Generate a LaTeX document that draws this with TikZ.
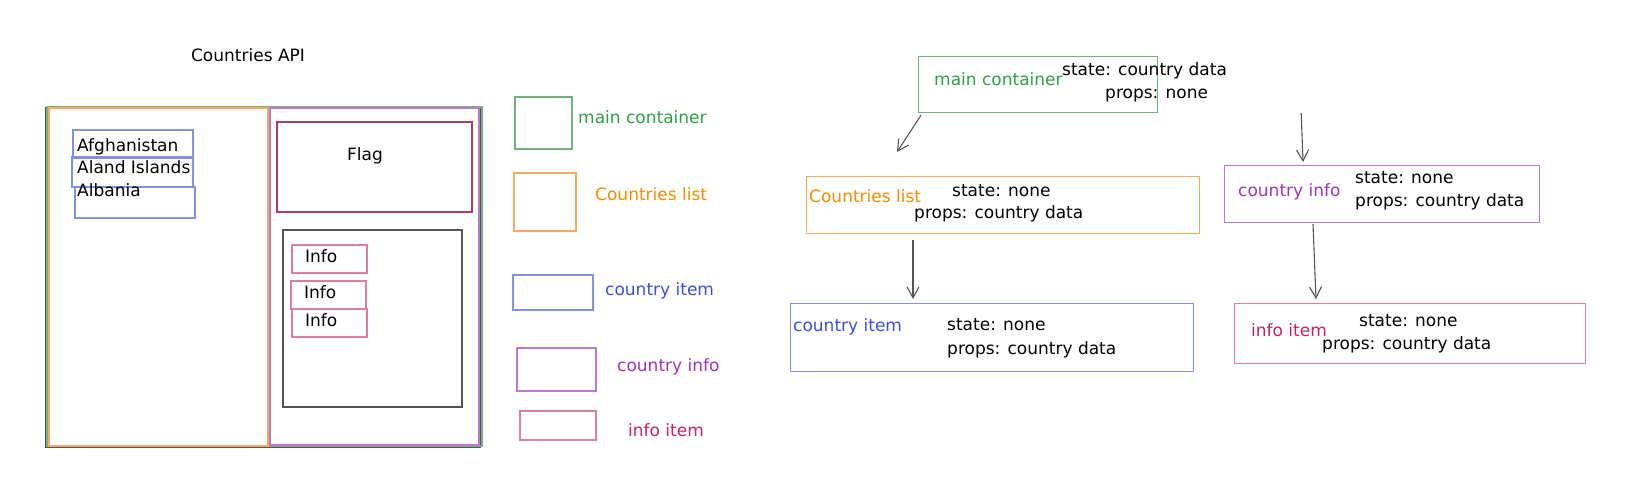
\documentclass[tikz,border=0pt]{standalone}
\usepackage{fontspec}
\setmainfont{DejaVu Sans}
\usetikzlibrary{arrows.meta}
\definecolor{txgreen}{HTML}{2F9E44}
\definecolor{bxgreen}{HTML}{72B27A}
\definecolor{txorange}{HTML}{F08C00}
\definecolor{bxorange}{HTML}{F7A862}
\definecolor{txblue}{HTML}{3B4FD8}
\definecolor{bxblue}{HTML}{8090E2}
\definecolor{txpurple}{HTML}{9C36B5}
\definecolor{bxpurple}{HTML}{B97ACD}
\definecolor{txcrimson}{HTML}{C2255C}
\definecolor{bxcrimson}{HTML}{D9809F}
\definecolor{bxflag}{HTML}{A8405E}
\definecolor{arrgray}{HTML}{555555}

\begin{document}
\begin{tikzpicture}[x=1pt,y=-1pt,
  box/.style={draw=#1, line width=1.2pt, inner sep=0pt, anchor=north west},
  txt/.style={anchor=west, inner sep=0pt, text height=12pt, text depth=4pt, font=\fontsize{17}{20}\selectfont},
  arr/.style={draw=arrgray, line width=1.1pt, -{Straight Barb[length=11pt,width=12pt]}}]
\useasboundingbox (0,0) rectangle (1631,478);

\node[txt, anchor=center] (title) at (248,58) {Countries API};
\draw[arrgray, line width=1.2pt] (46,108) rectangle (480,447);
\draw[bxgreen, line width=1.2pt] (47,107) rectangle (482,446);
\draw[bxorange, line width=1.2pt] (49,108) rectangle (268,446);
\draw[bxpurple, line width=1.2pt] (270,108) rectangle (479,445);
\draw[bxblue, line width=1.2pt] (73,130) rectangle (193,158);
\draw[bxblue, line width=1.2pt] (72,157) rectangle (193,187);
\draw[bxblue, line width=1.2pt] (75,187) rectangle (195,218);
\node[txt] (afg) at (77,148) {Afghanistan};
\node[txt] (ala) at (77,170) {Aland Islands};
\node[txt] (alb) at (77,193) {Albania};
\draw[bxflag, line width=1.2pt] (277,122) rectangle (472,212);
\node[txt, anchor=center] (flag) at (365,157) {Flag};
\draw[arrgray, line width=1.2pt] (283,230) rectangle (462,407);
\foreach \x/\y/\n in {292/245/1, 291/281/2, 292/309/3} {
  \draw[bxcrimson, line width=1.2pt] (\x,\y) rectangle ++(75,28);
  \node[txt] (info\n) at (\x+13,\y+14) {Info};
}

\draw[bxgreen, line width=1.2pt] (515,97) rectangle (572,149);
\node[txt, text=txgreen] (lgmain) at (578,120) {main container};
\draw[bxorange, line width=1.2pt] (514,173) rectangle (576,231);
\node[txt, text=txorange] (lglist) at (595,197) {Countries list};
\draw[bxblue, line width=1.2pt] (513,275) rectangle (593,310);
\node[txt, text=txblue] (lgitem) at (605,292) {country item};
\draw[bxpurple, line width=1.2pt] (517,348) rectangle (596,391);
\node[txt, text=txpurple] (lginfo) at (617,367) {country info};
\draw[bxcrimson, line width=1.2pt] (520,411) rectangle (596,440);
\node[txt, text=txcrimson] (lginfoitem) at (628,432) {info item};

\node[box=bxgreen, minimum width=239pt, minimum height=56pt] (main) at (918,56) {};
\node[box=bxorange, minimum width=393pt, minimum height=57pt] (clist) at (806,176) {};
\node[box=bxblue, minimum width=403pt, minimum height=68pt] (citem) at (790,303) {};
\node[box=bxpurple, minimum width=315pt, minimum height=57pt] (cinfo) at (1224,165) {};
\node[box=bxcrimson, minimum width=351pt, minimum height=60pt] (iitem) at (1234,303) {};

\node[txt, text=txgreen] (mainname) at (934,82) {main container};
\node[txt] (mainstate) at (1062,72) {state: country data};
\node[txt] (mainprops) at (1105,95) {props: none};
\node[txt, text=txorange] (clistname) at (809,199) {Countries list};
\node[txt] (cliststate) at (952,193) {state: none};
\node[txt] (clistprops) at (914,215) {props: country data};
\node[txt, text=txblue] (citemname) at (793,328) {country item};
\node[txt] (citemstate) at (947,327) {state: none};
\node[txt] (citemprops) at (947,351) {props: country data};
\node[txt, text=txpurple] (cinfoname) at (1238,193) {country info};
\node[txt] (cinfostate) at (1355,180) {state: none};
\node[txt] (cinfoprops) at (1355,203) {props: country data};
\node[txt, text=txcrimson] (iitemname) at (1251,333) {info item};
\node[txt] (iitemstate) at (1359,323) {state: none};
\node[txt] (iitemprops) at (1322,345) {props: country data};

\draw[arr] ([shift={(3,2)}]main.south west) -- ([shift={(91,-24)}]clist.north west);
\draw[arr] ([shift={(143,0)}]main.south east) -- ([shift={(79,-3)}]cinfo.north west);
\draw[arr] ([shift={(107,6)}]clist.south west) -- ([shift={(123,-4)}]citem.north west);
\draw[arr] ([shift={(89,1)}]cinfo.south west) -- ([shift={(82,-4)}]iitem.north west);
\end{tikzpicture}
\end{document}
